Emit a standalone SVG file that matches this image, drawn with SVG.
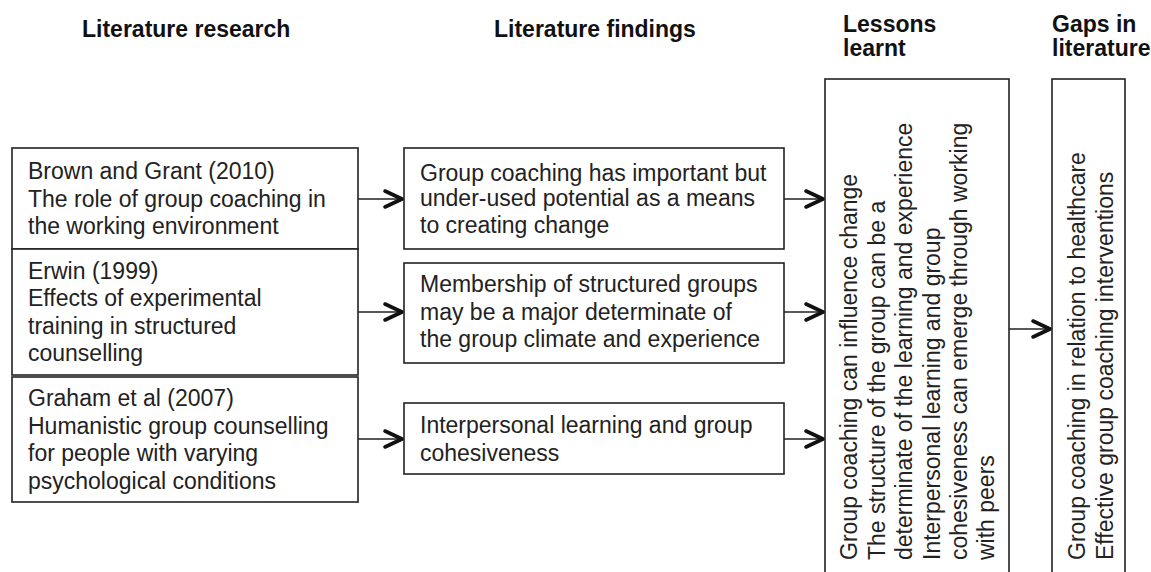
<svg xmlns="http://www.w3.org/2000/svg" width="1151" height="572" viewBox="0 0 1151 572">
<defs>
<style>
.box{fill:#fff;stroke:#222;stroke-width:1.6}
.t{font-family:"Liberation Sans",Arial,sans-serif;font-size:23px;fill:#222}
.h{font-family:"Liberation Sans",Arial,sans-serif;font-size:23px;font-weight:bold;fill:#111}
.con{stroke:#222;stroke-width:1.6;fill:none}
.head{stroke:#111;stroke-width:3.6;fill:none;stroke-linejoin:round;stroke-linecap:round}
</style>
<marker id="arr" markerUnits="userSpaceOnUse" markerWidth="30" markerHeight="30" viewBox="-24 -12 30 24" refX="0" refY="0" orient="auto" overflow="visible">
<path class="head" d="M-18,-8 L-1,0 L-18,8"/>
</marker>
</defs>
<rect width="1151" height="572" fill="#fff"/>

<g id="headers">
<text class="h" x="82" y="37">Literature research</text>
<text class="h" x="494" y="37">Literature findings</text>
<text class="h" x="843" y="32">Lessons</text>
<text class="h" x="843" y="56">learnt</text>
<text class="h" x="1052" y="32">Gaps in</text>
<text class="h" x="1052" y="56">literature</text>
</g>

<g id="research1">
<rect class="box" x="12" y="148" width="346" height="101"/>
<text class="t" x="28" y="179">Brown and Grant (2010)</text>
<text class="t" x="28" y="206.5">The role of group coaching in</text>
<text class="t" x="28" y="234">the working environment</text>
</g>
<g id="research2">
<rect class="box" x="12" y="249" width="346" height="126"/>
<text class="t" x="28" y="278.5">Erwin (1999)</text>
<text class="t" x="28" y="306">Effects of experimental</text>
<text class="t" x="28" y="333.5">training in structured</text>
<text class="t" x="28" y="361">counselling</text>
</g>
<g id="research3">
<rect class="box" x="12" y="377" width="346" height="125"/>
<text class="t" x="28" y="406">Graham et al (2007)</text>
<text class="t" x="28" y="433.5">Humanistic group counselling</text>
<text class="t" x="28" y="461">for people with varying</text>
<text class="t" x="28" y="488.5">psychological conditions</text>
</g>

<g id="finding1">
<rect class="box" x="404" y="148" width="380" height="101"/>
<text class="t" x="420" y="181">Group coaching has important but</text>
<text class="t" x="420" y="206">under-used potential as a means</text>
<text class="t" x="420" y="233">to creating change</text>
</g>
<g id="finding2">
<rect class="box" x="404" y="263" width="380" height="100"/>
<text class="t" x="420" y="292">Membership of structured groups</text>
<text class="t" x="420" y="320">may be a major determinate of</text>
<text class="t" x="420" y="347">the group climate and experience</text>
</g>
<g id="finding3">
<rect class="box" x="404" y="403" width="380" height="71"/>
<text class="t" x="420" y="433">Interpersonal learning and group</text>
<text class="t" x="420" y="461">cohesiveness</text>
</g>

<g id="lessons">
<rect class="box" x="825" y="79" width="184" height="500"/>
<g transform="translate(0,560) rotate(-90)">
<text class="t" x="0" y="857">Group coaching can influence change</text>
<text class="t" x="0" y="885">The structure of the group can be a</text>
<text class="t" x="0" y="912">determinate of the learning and experience</text>
<text class="t" x="0" y="940">Interpersonal learning and group</text>
<text class="t" x="0" y="967">cohesiveness can emerge through working</text>
<text class="t" x="0" y="994">with peers</text>
</g>
</g>

<g id="gaps">
<rect class="box" x="1052" y="79" width="73" height="500"/>
<g transform="translate(0,560) rotate(-90)">
<text class="t" x="0" y="1085">Group coaching in relation to healthcare</text>
<text class="t" x="0" y="1113">Effective group coaching interventions</text>
</g>
</g>

<g id="connectors">
<line class="con" x1="358" y1="199" x2="403" y2="199" marker-end="url(#arr)"/>
<line class="con" x1="358" y1="312" x2="403" y2="312" marker-end="url(#arr)"/>
<line class="con" x1="358" y1="439" x2="403" y2="439" marker-end="url(#arr)"/>
<line class="con" x1="784" y1="199" x2="824" y2="199" marker-end="url(#arr)"/>
<line class="con" x1="784" y1="312" x2="824" y2="312" marker-end="url(#arr)"/>
<line class="con" x1="784" y1="439" x2="824" y2="439" marker-end="url(#arr)"/>
<line class="con" x1="1009" y1="329" x2="1051" y2="329" marker-end="url(#arr)"/>
</g>
</svg>
